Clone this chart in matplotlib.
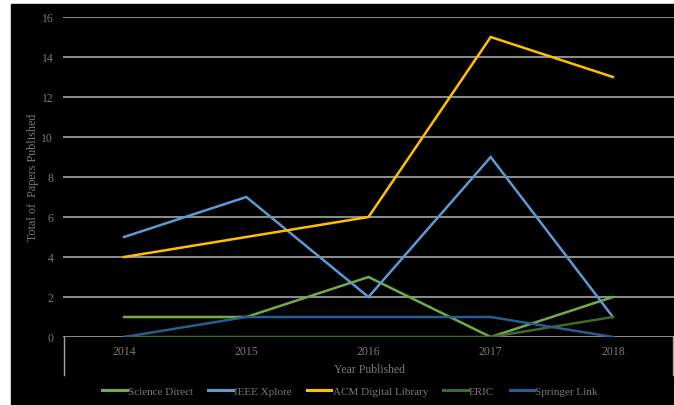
import matplotlib
matplotlib.use("Agg")
import matplotlib.pyplot as plt
from matplotlib.patches import Rectangle
from matplotlib.lines import Line2D

years = ["2014", "2015", "2016", "2017", "2018"]
science_direct = [1, 1, 3, 0, 2]
ieee_xplore = [5, 7, 2, 9, 1]
acm_library = [4, 5, 6, 15, 13]
eric = [0, 0, 0, 0, 1]
springer_link = [0, 1, 1, 1, 0]

series = [
    ("Science Direct", science_direct, "#70AD47"),
    ("IEEE Xplore", ieee_xplore, "#5B9BD5"),
    ("ACM Digital Library", acm_library, "#FFC000"),
    ("ERIC", eric, "#43682B"),
    ("Springer Link", springer_link, "#255E91"),
]

plt.rcParams['font.family'] = ['Liberation Serif', 'DejaVu Serif']
txt = "#7a7a7a"
W, H = 674, 406
fig = plt.figure(figsize=(W / 100, H / 100), dpi=100)
fig.patch.set_facecolor("white")
bg = Rectangle((11 / W, 0), 1 - 11 / W, 1 - 5 / H,
               transform=fig.transFigure, color="black", zorder=-10)
fig.add_artist(bg)

ax = fig.add_axes([63 / W, 1 - 338 / H, (674 - 63) / W, (338 - 18) / H])
ax.set_zorder(1)
ax.set_facecolor("black")
x = list(range(len(years)))
for name, vals, col in series:
    ax.plot(x, vals, color=col, lw=1.8, label=name, zorder=3, solid_joinstyle="miter")

ax.set_xlim(-0.5, 4.5)
ax.set_ylim(0, 16)
ax.set_yticks(range(0, 17, 2))
ax.set_xticks(x)
ax.set_xticklabels(years)
ax.yaxis.grid(True, color="#a6a6a6", lw=1.2)
ax.set_axisbelow(True)
for s in ax.spines.values():
    s.set_visible(False)
ax.tick_params(length=0, colors=txt, labelsize=8.5)
ax.tick_params(axis="y", pad=7)
ax.tick_params(axis="x", pad=6)

for xp in (63.5 / W, 673 / W):
    fig.add_artist(Line2D([xp, xp], [1 - 338 / H, 1 - 376 / H], color="#a6a6a6", lw=1.0))

fig.text(33 / W, 1 - 177 / H, "Total of  Papers Published", rotation=90,
         ha="center", va="center", color=txt, fontsize=8.7)
fig.text(369 / W, 1 - 370 / H, "Year Published", ha="center", va="center",
         color=txt, fontsize=8.5)

leg = fig.legend(loc="center", bbox_to_anchor=(350 / W, 1 - 392 / H), ncol=5,
                 frameon=False, fontsize=8, handlelength=2.2, handletextpad=0.1,
                 columnspacing=1.4, labelcolor=txt)
for line in leg.get_lines():
    line.set_linewidth(2.2)

fig.savefig("out.png", dpi=100, facecolor=fig.get_facecolor())
